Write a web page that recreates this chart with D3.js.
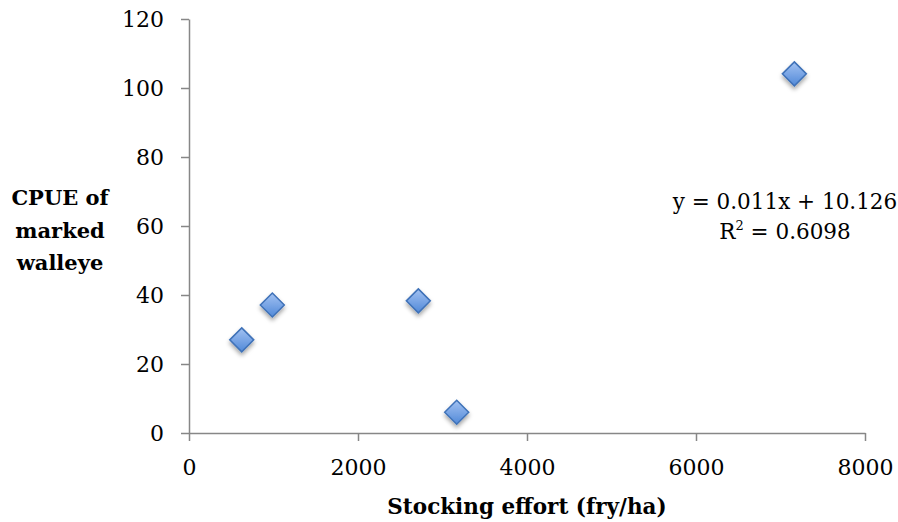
<!DOCTYPE html>
<html>
<head>
<meta charset="utf-8">
<script src="https://cdn.jsdelivr.net/npm/d3@7"></script>
<style>
  html, body { margin: 0; padding: 0; background: #fff; }
  svg { display: block; }
</style>
</head>
<body>
<div id="chart"></div>
<script>
// Stocking effort (fry/ha) vs CPUE of marked walleye
const stocking = [624, 986, 2714, 3168, 7164];
const cpue = [27.0, 37.1, 38.3, 6.0, 104.1];
const xTicks = [0, 2000, 4000, 6000, 8000];
const yTicks = [0, 20, 40, 60, 80, 100, 120];
const yTitleLines = ["CPUE of", "marked", "walleye"];
const equationLine = "y = 0.011x + 10.126";

const width = 898;
const height = 522;
const margin = { top: 19, right: 33, bottom: 89, left: 189 };
const font = '"DejaVu Serif", Georgia, serif';
const tickSize = 22;
const axisColor = "#878787";

const svg = d3.select("#chart")
  .append("svg")
  .attr("width", width)
  .attr("height", height)
  .style("font-family", font);

const defs = svg.append("defs");
const grad = defs.append("linearGradient")
  .attr("id", "dgrad")
  .attr("x1", 0).attr("y1", 0).attr("x2", 0).attr("y2", 1);
grad.append("stop").attr("offset", "0%").attr("stop-color", "#a3c2f2");
grad.append("stop").attr("offset", "100%").attr("stop-color", "#5189d8");

const shadow = defs.append("filter")
  .attr("id", "shadow")
  .attr("x", "-50%").attr("y", "-50%").attr("width", "200%").attr("height", "200%");
shadow.append("feDropShadow")
  .attr("dx", 0).attr("dy", 3).attr("stdDeviation", 2.2)
  .attr("flood-color", "#000").attr("flood-opacity", 0.35);

const x = d3.scaleLinear()
  .domain([0, 8000])
  .range([margin.left, width - margin.right]);

const y = d3.scaleLinear()
  .domain([0, 120])
  .range([height - margin.bottom, margin.top]);

// Y axis
const yG = svg.append("g")
  .attr("transform", `translate(${margin.left},0)`)
  .call(d3.axisLeft(y).tickValues(yTicks).tickSize(8).tickSizeOuter(0).tickPadding(17));
yG.selectAll("path,line").attr("stroke", axisColor).attr("stroke-width", 1.5);
yG.selectAll("text").attr("fill", "#000").attr("font-size", tickSize).attr("font-family", font);

// X axis
const xG = svg.append("g")
  .attr("transform", `translate(0,${height - margin.bottom})`)
  .call(d3.axisBottom(x).tickValues(xTicks).tickFormat(d3.format("d"))
    .tickSize(8).tickSizeOuter(0).tickPadding(18));
xG.selectAll("path,line").attr("stroke", axisColor).attr("stroke-width", 1.5);
xG.selectAll("text").attr("fill", "#000").attr("font-size", tickSize).attr("font-family", font);

// Points
const r = 12;
svg.append("g")
  .selectAll("path")
  .data(stocking.map((s, i) => ({ s, c: cpue[i] })))
  .join("path")
  .attr("d", `M0,${-r}L${r},0L0,${r}L${-r},0Z`)
  .attr("transform", (d) => `translate(${x(d.s)},${y(d.c)})`)
  .attr("fill", "url(#dgrad)")
  .attr("stroke", "#3f72b8")
  .attr("stroke-width", 1.5)
  .attr("filter", "url(#shadow)");

// Trendline equation
const eq = svg.append("g").attr("font-size", 21.5).attr("fill", "#000");
eq.append("text")
  .attr("x", 785).attr("y", 209)
  .attr("text-anchor", "middle")
  .text(equationLine);
const r2 = eq.append("text")
  .attr("x", 785).attr("y", 239)
  .attr("text-anchor", "middle");
r2.append("tspan").text("R");
r2.append("tspan").attr("dy", -9).attr("font-size", 13).text("2");
r2.append("tspan").attr("dy", 9).text(" = 0.6098");

// Y title
svg.append("g")
  .selectAll("text")
  .data(yTitleLines)
  .join("text")
  .attr("x", 60)
  .attr("y", (d, i) => 205 + i * 32.5)
  .attr("text-anchor", "middle")
  .attr("font-size", 21)
  .attr("font-weight", 700)
  .text((d) => d);

// X title
svg.append("text")
  .attr("x", (margin.left + width - margin.right) / 2)
  .attr("y", 514)
  .attr("text-anchor", "middle")
  .attr("font-size", 21.5)
  .attr("font-weight", 700)
  .text("Stocking effort (fry/ha)");
</script>
</body>
</html>
